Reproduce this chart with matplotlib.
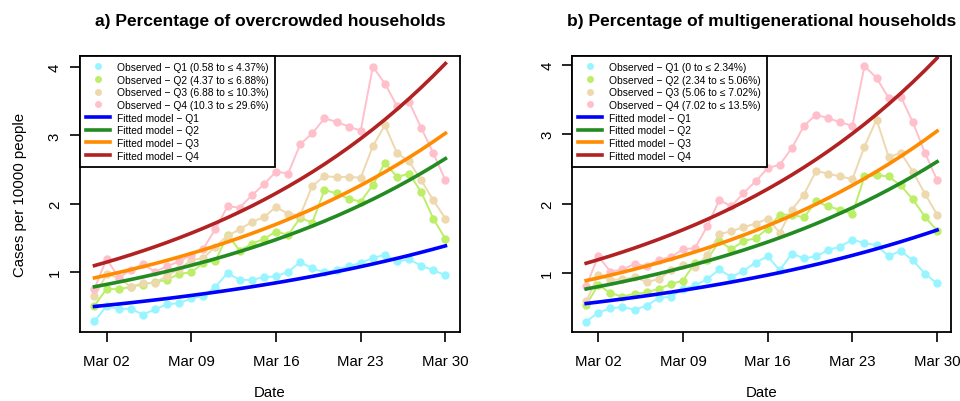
import numpy as np
import pandas as pd
import matplotlib
matplotlib.use('Agg')
import matplotlib.pyplot as plt
import matplotlib.dates as mdates
from matplotlib.lines import Line2D

plt.rcParams['font.family'] = ['Liberation Sans', 'DejaVu Sans']

dates = pd.date_range('2020-03-01', '2020-03-30', freq='D')
tick_dates = pd.to_datetime(['2020-03-02', '2020-03-09', '2020-03-16', '2020-03-23', '2020-03-30'])

# a) overcrowded households - observed cases per 10000 people
over_q1 = [0.27, 0.50, 0.45, 0.46, 0.37, 0.45, 0.52, 0.54, 0.61, 0.64,
           0.78, 0.98, 0.88, 0.88, 0.92, 0.93, 1.00, 1.14, 1.05, 0.99,
           1.03, 1.08, 1.13, 1.20, 1.25, 1.15, 1.18, 1.09, 1.02, 0.95]
over_q2 = [0.50, 0.75, 0.74, 0.78, 0.81, 0.85, 0.88, 0.97, 0.99, 1.13,
           1.16, 1.54, 1.31, 1.41, 1.48, 1.59, 1.54, 1.79, 1.72, 2.20,
           2.15, 2.07, 2.03, 2.27, 2.60, 2.39, 2.44, 2.17, 1.78, 1.48]
over_q3 = [0.64, 0.96, 0.91, 0.78, 0.83, 0.84, 0.94, 1.04, 1.17, 1.20,
           1.37, 1.53, 1.62, 1.73, 1.80, 1.95, 1.85, 1.83, 2.26, 2.40,
           2.39, 2.39, 2.38, 2.84, 3.15, 2.74, 2.62, 2.34, 2.05, 1.78]
over_q4 = [0.75, 1.19, 0.91, 1.03, 1.11, 1.00, 1.08, 1.15, 1.25, 1.34,
           1.63, 1.96, 1.94, 2.12, 2.28, 2.47, 2.44, 2.87, 3.03, 3.25,
           3.20, 3.13, 3.07, 4.01, 3.76, 3.43, 3.49, 3.11, 2.74, 2.34]
over_ranges = ['0.58 to \u2264 4.37%', '4.37 to \u2264 6.88%',
               '6.88 to \u2264 10.3%', '10.3 to \u2264 29.6%']
# fitted log-linear model: value on Mar 01 and daily growth rate
over_fit_start = [0.49, 0.78, 0.91, 1.09]
over_fit_rate = [0.0357, 0.0423, 0.0415, 0.0453]

# b) multigenerational households
multi_q1 = [0.30, 0.43, 0.49, 0.51, 0.47, 0.53, 0.64, 0.66, 0.77, 0.82,
            0.91, 1.05, 0.94, 1.03, 1.15, 1.24, 1.04, 1.28, 1.21, 1.24,
            1.33, 1.38, 1.48, 1.43, 1.40, 1.24, 1.32, 1.18, 0.99, 0.85]
multi_q2 = [0.54, 0.83, 0.71, 0.66, 0.70, 0.72, 0.77, 0.84, 0.89, 1.15,
            1.19, 1.46, 1.34, 1.46, 1.50, 1.64, 1.84, 1.84, 1.80, 2.03,
            1.96, 1.91, 1.85, 2.39, 2.41, 2.39, 2.26, 2.06, 1.81, 1.61]
multi_q3 = [0.59, 0.97, 0.90, 0.91, 0.94, 0.87, 0.91, 1.04, 1.11, 1.08,
            1.26, 1.56, 1.60, 1.66, 1.71, 1.78, 1.58, 1.91, 2.13, 2.47,
            2.43, 2.39, 2.35, 2.82, 3.21, 2.67, 2.73, 2.46, 2.14, 1.84]
multi_q4 = [0.81, 1.24, 1.02, 1.05, 1.13, 1.10, 1.19, 1.23, 1.34, 1.36,
            1.67, 2.05, 1.96, 2.15, 2.32, 2.51, 2.56, 2.80, 3.12, 3.28,
            3.23, 3.17, 3.12, 3.98, 3.81, 3.52, 3.54, 3.17, 2.73, 2.34]
multi_ranges = ['0 to \u2264 2.34%', '2.34 to \u2264 5.06%',
                '5.06 to \u2264 7.02%', '7.02 to \u2264 13.5%']
multi_fit_start = [0.56, 0.77, 0.89, 1.14]
multi_fit_rate = [0.0366, 0.0420, 0.0424, 0.0441]

obs_colors = ['#98F5FF', '#BCEE68', '#EED8AE', '#FFC0CB']
fit_colors = ['#0000FF', '#228B22', '#FF8C00', '#B22222']


def draw_panel(ax, observed, ranges, fit_start, fit_rate, title, ylim, xpad):
    days = np.arange(len(dates))
    for vals, col in zip(observed, obs_colors):
        ax.plot(dates, vals, color=col, lw=1.4, marker='o', ms=5, mec=col)
    for a, b, col in zip(fit_start, fit_rate, fit_colors):
        ax.plot(dates, a * np.exp(b * days), color=col, lw=2.6)

    ax.set_xlim(dates[0] - pd.Timedelta(days=xpad), dates[-1] + pd.Timedelta(days=xpad))
    ax.set_ylim(*ylim)
    ax.set_xticks(tick_dates)
    ax.xaxis.set_major_formatter(mdates.DateFormatter('%b %d'))
    ax.set_yticks([1, 2, 3, 4])
    ax.tick_params(axis='both', labelsize=10.8, length=7, width=1.2, color='black')
    ax.tick_params(axis='x', pad=9)
    ax.tick_params(axis='y', pad=6)
    for lab in ax.get_yticklabels():
        lab.set_rotation(90)
        lab.set_va('center')
    for sp in ax.spines.values():
        sp.set_linewidth(1.3)
    ax.set_xlabel('Date', fontsize=10.8, labelpad=12)
    ax.set_title(title, fontsize=12.5, fontweight='bold', pad=22)

    handles = []
    labels = []
    for i, col in enumerate(obs_colors):
        handles.append(Line2D([], [], ls='none', marker='o', ms=4, color=col))
        labels.append(f'Observed \u2212 Q{i + 1} ({ranges[i]})')
    for i, col in enumerate(fit_colors):
        handles.append(Line2D([], [], color=col, lw=2.6))
        labels.append(f'Fitted model \u2212 Q{i + 1}')
    leg = ax.legend(handles, labels, loc='upper left', bbox_to_anchor=(0, 1),
                    borderaxespad=0, fontsize=7.4, fancybox=False, framealpha=1,
                    edgecolor='black', handlelength=2.3, handletextpad=0.7,
                    labelspacing=0.26, borderpad=0.6)
    leg.get_frame().set_linewidth(1.3)


fig = plt.figure(figsize=(9.6, 4.02), dpi=100)
ax1 = fig.add_axes([0.0833, 0.1724, 0.3958, 0.6866])
ax2 = fig.add_axes([0.5961, 0.1724, 0.3945, 0.6866])

draw_panel(ax1, [over_q1, over_q2, over_q3, over_q4], over_ranges,
           over_fit_start, over_fit_rate,
           'a) Percentage of overcrowded households', (0.12, 4.17), 1.2)
draw_panel(ax2, [multi_q1, multi_q2, multi_q3, multi_q4], multi_ranges,
           multi_fit_start, multi_fit_rate,
           'b) Percentage of multigenerational households', (0.154, 4.13), 1.15)

ax1.set_ylabel('Cases per 10000 people', fontsize=10.8, labelpad=15)

fig.savefig('out.png', dpi=100)
